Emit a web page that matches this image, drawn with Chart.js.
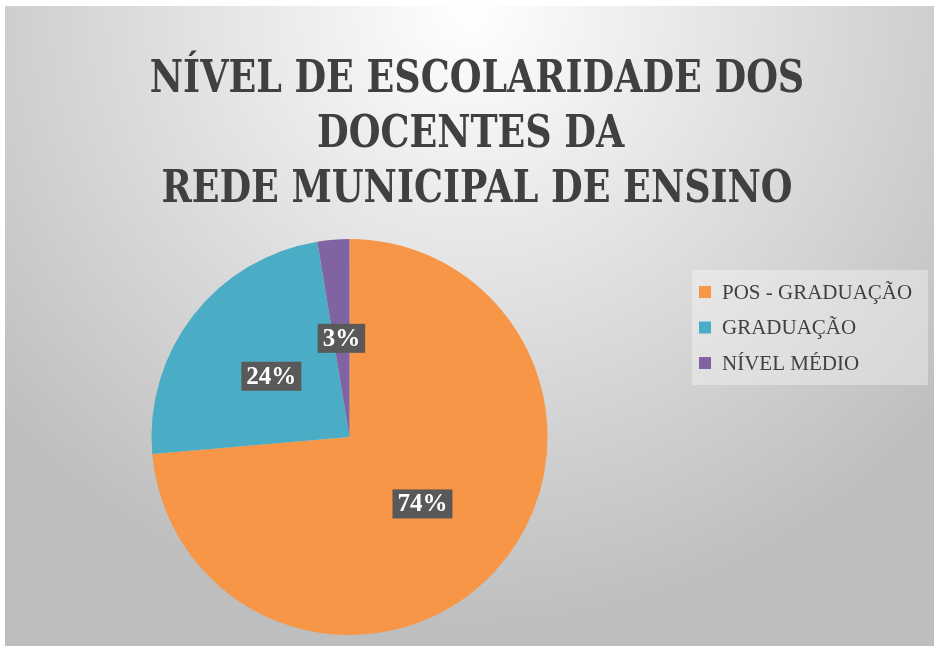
<!DOCTYPE html>
<html>
<head>
<meta charset="utf-8">
<script src="https://cdn.jsdelivr.net/npm/chart.js@4.4.0/dist/chart.umd.min.js"></script>
<style>
  body { margin: 0; background: #ffffff; }
  #chart_canvas { display: block; }
</style>
</head>
<body>
<canvas id="chart_canvas" width="934" height="646"></canvas>
<script>
var chartTitle = ['NÍVEL DE ESCOLARIDADE DOS', 'DOCENTES DA ', 'REDE MUNICIPAL DE ENSINO'];
var xValues = ['POS - GRADUAÇÃO', 'GRADUAÇÃO', 'NÍVEL MÉDIO'];
var yValues = [73.7, 23.8, 2.6];
var barColors = ['#F79646', '#4BACC6', '#8064A2'];

// gradient background of the chart card
var backgroundPlugin = {
    id: 'cardBackground',
    beforeDraw: function (chart) {
        var ctx = chart.ctx;
        ctx.save();
        var g = ctx.createRadialGradient(470, 10, 0, 470, 10, 620);
        g.addColorStop(0, '#ffffff');
        g.addColorStop(1, '#bebebe');
        ctx.fillStyle = g;
        ctx.fillRect(5, 6, chart.width - 5, chart.height - 6);
        ctx.restore();
    }
};

// three line title, centred over the whole card (condensed a bit)
var titlePlugin = {
    id: 'cardTitle',
    beforeDatasetsDraw: function (chart) {
        var ctx = chart.ctx;
        ctx.save();
        ctx.font = 'bold 45px "DejaVu Serif Condensed", "DejaVu Serif"';
        ctx.fillStyle = '#404040';
        ctx.textAlign = 'center';
        ctx.textBaseline = 'alphabetic';
        ctx.translate(477, 0);
        ctx.scale(0.9, 1);
        for (var i = 0; i < chartTitle.length; i++) {
            ctx.fillText(chartTitle[i], 0, 91.5 + i * 55);
        }
        ctx.restore();
    }
};

// percent labels on dark boxes
var percentPlugin = {
    id: 'percentLabels',
    afterDatasetsDraw: function (chart) {
        var ctx = chart.ctx;
        var meta = chart.getDatasetMeta(0);
        var data = chart.data.datasets[0].data;
        var total = data.reduce(function (a, b) { return a + b; }, 0);
        ctx.save();
        ctx.font = 'bold 25px "Liberation Serif"';
        ctx.textAlign = 'center';
        ctx.textBaseline = 'middle';
        meta.data.forEach(function (arc, i) {
            var pos = arc.tooltipPosition();
            var txt = Math.round(data[i] / total * 100) + '%';
            var w = ctx.measureText(txt).width + 10;
            var h = 29;
            ctx.fillStyle = '#595959';
            ctx.fillRect(pos.x - w / 2, pos.y - h / 2, w, h);
            ctx.fillStyle = '#ffffff';
            ctx.fillText(txt, pos.x, pos.y + 1);
        });
        ctx.restore();
    }
};

// legend box on the right
var legendPlugin = {
    id: 'sideLegend',
    afterDraw: function (chart) {
        var ctx = chart.ctx;
        var labels = chart.data.labels;
        var colors = chart.data.datasets[0].backgroundColor;
        ctx.save();
        ctx.fillStyle = 'rgba(255,255,255,0.35)';
        ctx.fillRect(692, 270, 236, 115);
        ctx.font = '21px "Liberation Serif"';
        ctx.textBaseline = 'middle';
        ctx.textAlign = 'left';
        for (var i = 0; i < labels.length; i++) {
            var y = 292 + i * 35.5;
            ctx.fillStyle = colors[i];
            ctx.fillRect(699, y - 6, 12, 12);
            ctx.fillStyle = '#404040';
            ctx.fillText(labels[i], 722, y + 1);
        }
        ctx.restore();
    }
};

var myChart = new Chart('chart_canvas', {
    type: 'pie',
    data: {
        labels: xValues,
        datasets: [{
            backgroundColor: barColors,
            data: yValues,
            borderWidth: 0
        }]
    },
    options: {
        responsive: false,
        devicePixelRatio: 1,
        animation: false,
        layout: { padding: { left: 151, right: 386, top: 239, bottom: 11 } },
        plugins: {
            legend: { display: false },
            tooltip: { enabled: false },
            title: { display: false }
        }
    },
    plugins: [backgroundPlugin, titlePlugin, percentPlugin, legendPlugin]
});
</script>
</body>
</html>
